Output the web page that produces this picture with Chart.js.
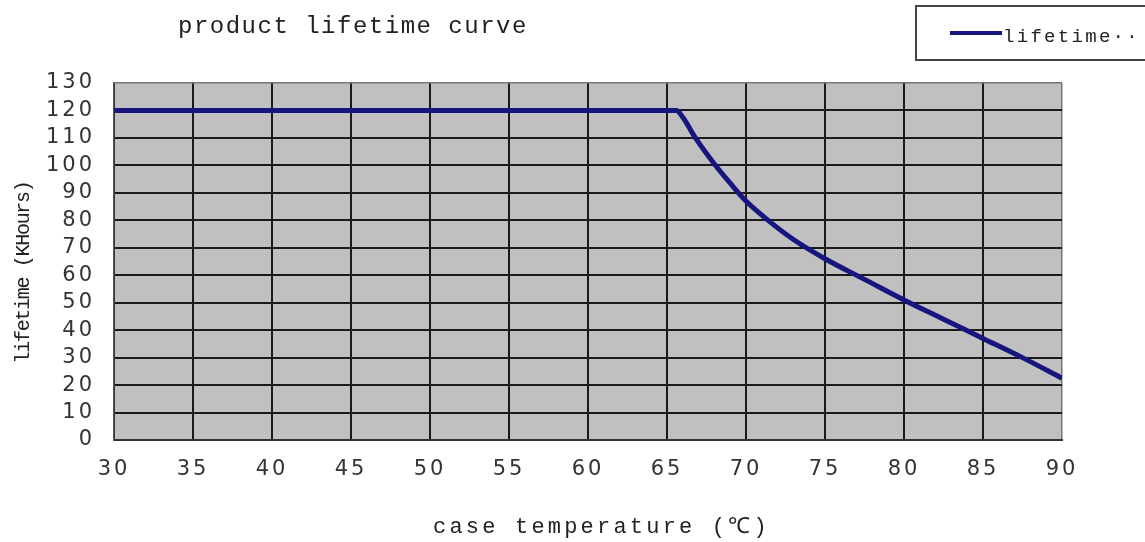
<!DOCTYPE html>
<html><head><meta charset="utf-8">
<script src="https://cdn.jsdelivr.net/npm/chart.js@4.4.1/dist/chart.umd.min.js"></script>
<style>html,body{margin:0;padding:0;background:#fff;overflow:hidden}</style>
</head><body>
<canvas id="c" width="1145" height="542" style="display:block;width:1145px;height:542px"></canvas>
<script>
const chartTitle = 'product lifetime curve';
const xAxisTitle = 'case temperature (\u2103)';
const yAxisTitle = 'lifetime (KHours)';
const seriesLabel = 'lifetime\u00b7\u00b7';
const temperatures = [30, 65.6, 66, 66.8, 68, 69, 70, 71.5, 73, 75, 77.5, 80, 82.5, 85, 87.5, 90];
const lifetimes    = [120, 120, 117.5, 110, 100.5, 93.5, 87, 79.5, 73, 66, 58.5, 51, 44, 37, 30, 22.5];
const xTickValues = [30, 35, 40, 45, 50, 55, 60, 65, 70, 75, 80, 85, 90];
const yTickValues = [0, 10, 20, 30, 40, 50, 60, 70, 80, 90, 100, 110, 120, 130];

const points = temperatures.map((t, i) => ({x: t, y: lifetimes[i]}));

const decor = {
  id: 'decor',
  beforeDraw(chart) {
    const {ctx, chartArea: a} = chart;
    ctx.save();
    ctx.fillStyle = '#c0c0c0';
    ctx.fillRect(a.left, a.top, a.right - a.left, a.bottom - a.top);
    ctx.restore();
    ctx.letterSpacing = '3px';
  },
  afterDraw(chart) {
    const {ctx, chartArea: a} = chart;
    ctx.save();
    ctx.fillStyle = '#222';
    ctx.textAlign = 'left';
    ctx.textBaseline = 'middle';
    // title
    ctx.letterSpacing = '1.5px';
    ctx.font = '24px "Liberation Mono"';
    ctx.fillText(chartTitle, a.left + 64, 27);
    // x axis title
    ctx.letterSpacing = '3.2px';
    ctx.font = '22px "Liberation Mono"';
    ctx.fillText(xAxisTitle, a.left + 319, 527);
    // y axis title
    ctx.save();
    ctx.letterSpacing = '-1.3px';
    ctx.translate(24, (a.top + a.bottom) / 2 + 11);
    ctx.rotate(-Math.PI / 2);
    ctx.textAlign = 'center';
    ctx.font = '20px "Liberation Mono"';
    ctx.fillText(yAxisTitle, 0, 0);
    ctx.restore();
    // legend
    const ds = chart.data.datasets[0];
    ctx.strokeStyle = '#444';
    ctx.lineWidth = 2;
    ctx.strokeRect(916, 6, 240, 54);
    ctx.strokeStyle = ds.borderColor;
    ctx.lineWidth = 4;
    ctx.beginPath(); ctx.moveTo(950, 33); ctx.lineTo(1002, 33); ctx.stroke();
    ctx.letterSpacing = '2.3px';
    ctx.font = '19px "Liberation Mono"';
    ctx.fillText(ds.label, 1003, 37);
    ctx.restore();
    ctx.letterSpacing = '0px';
  }
};

new Chart(document.getElementById('c'), {
  type: 'line',
  data: {
    datasets: [{
      label: seriesLabel,
      data: points,
      borderColor: '#16167e',
      borderWidth: 5,
      pointRadius: 0,
      fill: false,
      cubicInterpolationMode: 'monotone'
    }]
  },
  options: {
    responsive: false,
    animation: false,
    devicePixelRatio: 1,
    layout: {padding: {top: 83, right: 83, left: 0, bottom: 0}},
    plugins: {legend: {display: false}, title: {display: false}, tooltip: {enabled: false}},
    scales: {
      x: {
        type: 'linear', min: 30, max: 90,
        afterBuildTicks: s => { s.ticks = xTickValues.map(v => ({value: v})); },
        afterFit: s => { s.height = 102; },
        grid: {
          color: c => c.tick && c.tick.value === 90 ? '#777' : '#1a1a1a',
          lineWidth: c => c.tick && c.tick.value === 90 ? 1.5 : 2,
          drawTicks: false
        },
        border: {display: true, color: '#333', width: 2},
        ticks: {padding: 17, color: '#333', font: {family: '"DejaVu Sans"', size: 21}, maxRotation: 0, autoSkip: false}
      },
      y: {
        min: 0, max: 130,
        afterBuildTicks: s => { s.ticks = yTickValues.map(v => ({value: v})); },
        afterFit: s => { s.width = 114; },
        grid: {
          color: c => c.tick && c.tick.value === 130 ? '#777' : '#1a1a1a',
          lineWidth: c => c.tick && c.tick.value === 130 ? 1.5 : 2,
          drawTicks: false
        },
        border: {display: true, color: '#555', width: 1.5},
        ticks: {padding: 19, color: '#333', font: {family: '"DejaVu Sans"', size: 21}, autoSkip: false}
      }
    }
  },
  plugins: [decor]
});
</script>
</body></html>
